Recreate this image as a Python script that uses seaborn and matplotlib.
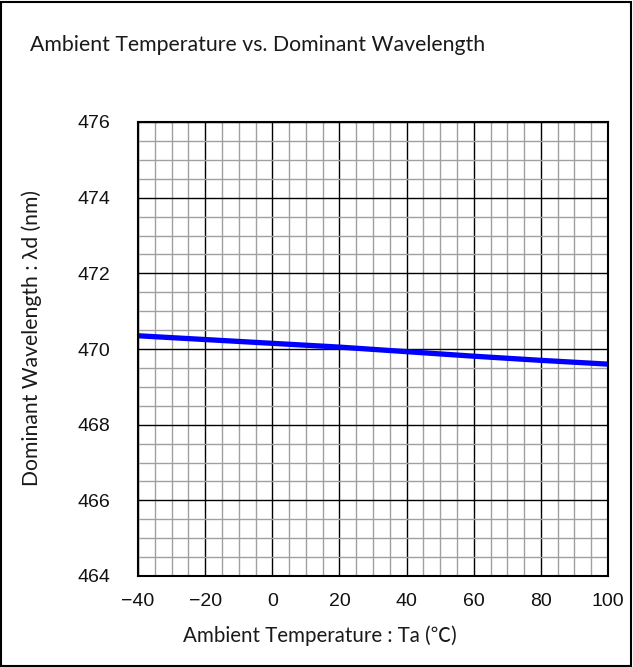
import matplotlib
matplotlib.use("Agg")
import matplotlib.pyplot as plt
import seaborn as sns
import pandas as pd
import numpy as np
from matplotlib.ticker import MultipleLocator
from matplotlib.patches import Rectangle

temperature = [-40, -20, 0, 20, 40, 60, 80, 100]
wavelength = [470.35, 470.25, 470.15, 470.05, 469.93, 469.81, 469.70, 469.60]

x_ticks = [-40, -20, 0, 20, 40, 60, 80, 100]
y_ticks = [464, 466, 468, 470, 472, 474, 476]

sns.set_theme(style="white")
plt.rcParams['font.family'] = ['Lato', 'DejaVu Sans']

df = pd.DataFrame({"Ta": temperature, "wl": wavelength})

fig = plt.figure(figsize=(6.33, 6.67), dpi=100)
ax = fig.add_axes([138/633, 91/667, 470/633, 454/667])

ax.set_xlim(-40, 100)
ax.set_ylim(464, 476)
ax.xaxis.set_major_locator(MultipleLocator(20))
ax.xaxis.set_minor_locator(MultipleLocator(5))
ax.yaxis.set_major_locator(MultipleLocator(2))
ax.yaxis.set_minor_locator(MultipleLocator(0.5))
ax.grid(which="minor", color="#a0a0a0", linewidth=1.0)
ax.grid(which="major", color="#000000", linewidth=1.0)
ax.set_axisbelow(True)

sns.lineplot(data=df, x="Ta", y="wl", ax=ax, color="#0000ff", linewidth=3.8)

tick_font = ['Liberation Sans', 'DejaVu Sans']
ax.set_xticks(x_ticks)
ax.set_yticks(y_ticks)
ax.set_xticklabels([str(v).replace("-", "\u2212") for v in x_ticks], fontsize=14, family=tick_font)
ax.set_yticklabels([str(v) for v in y_ticks], fontsize=14, family=tick_font)
ax.tick_params(axis="x", which="both", length=0, pad=12, colors="#111111")
ax.tick_params(axis="y", which="both", length=0, pad=20, colors="#111111")

for s in ax.spines.values():
    s.set_color("black")
    s.set_linewidth(1.5)

ax.set_xlabel("Ambient Temperature : Ta (\u2103)", fontsize=14.8,
              family=['Lato', 'Noto Sans CJK JP', 'DejaVu Sans'], color="#1a1a1a")
ax.xaxis.label.set_va("center")
ax.xaxis.set_label_coords((320 - 138) / 470, -(636 - 576) / 454)
ax.set_ylabel("Dominant Wavelength : \u03bbd (nm)", fontsize=15.2,
              family=['Lato', 'DejaVu Sans'], color="#1a1a1a")
ax.yaxis.label.set_va("center")
ax.yaxis.set_label_coords(-(138 - 32) / 470, (576 - 338) / 454)

fig.text(257.5 / 633, 1 - 45/667, "Ambient Temperature vs. Dominant Wavelength",
         ha="center", va="center", fontsize=15.3, color="#1a1a1a")

fig.patches.append(Rectangle((0.002, 0.002), 0.995, 0.995, transform=fig.transFigure,
                             fill=False, edgecolor="black", linewidth=1.5))

fig.savefig("out.png", dpi=100)
